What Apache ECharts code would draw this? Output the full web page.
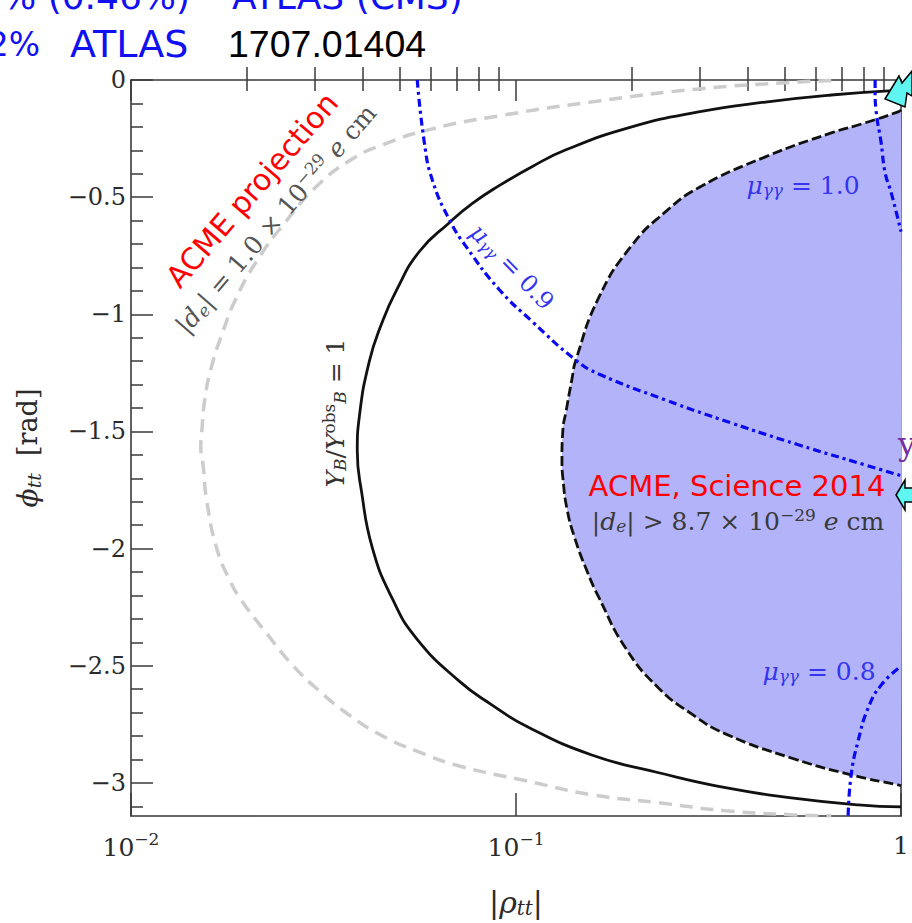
<!DOCTYPE html>
<html>
<head>
<meta charset="utf-8">
<script src="https://cdn.jsdelivr.net/npm/echarts@6/dist/echarts.min.js"></script>
<style>html,body{margin:0;padding:0;background:#fff}#c{width:912px;height:923px}</style>
</head>
<body>
<div id="c"></div>
<script>
// ---- data (x = |rho_tt|, y = phi_tt [rad]) ----
const acmeProjectionCurve = [
  [0.6587,-0.002],[0.5410,-0.0085],[0.2979,-0.0383],[0.1641,-0.0894],[0.0904,-0.153],[0.0606,-0.2085],
  [0.0450,-0.2766],[0.0369,-0.3447],[0.0303,-0.455],[0.0251,-0.609],[0.0212,-0.774],[0.0187,-0.936],
  [0.0173,-1.077],[0.0162,-1.221],[0.01555,-1.362],[0.01527,-1.502],[0.01518,-1.570],[0.0154,-1.647],
  [0.0157,-1.787],[0.0167,-2.000],[0.0181,-2.140],[0.0192,-2.213],[0.0225,-2.362],[0.0263,-2.498],
  [0.0309,-2.609],[0.0369,-2.711],[0.0450,-2.800],[0.0551,-2.864],[0.0712,-2.928],[0.1061,-2.991],
  [0.1573,-3.051],[0.2348,-3.085],[0.3499,-3.119],[0.5188,-3.136],[0.6587,-3.141]
];
const baryonAsymmetryCurve = [
  [1.0,-0.043],[0.6587,-0.064],[0.4443,-0.094],[0.2979,-0.136],[0.1998,-0.200],[0.1348,-0.298],
  [0.1100,-0.370],[0.0904,-0.451],[0.0769,-0.528],[0.0671,-0.609],[0.0561,-0.732],[0.0489,-0.898],
  [0.0447,-1.043],[0.0416,-1.200],[0.0392,-1.434],[0.0387,-1.583],[0.0397,-1.757],[0.0424,-2.000],
  [0.0477,-2.213],[0.0551,-2.383],[0.0712,-2.566],[0.0867,-2.668],[0.1061,-2.757],[0.1573,-2.881],
  [0.2348,-2.957],[0.3499,-3.021],[0.5188,-3.064],[0.7737,-3.094],[1.0,-3.103]
];
const acme2014Curve = [
  [1.0,-0.128],[0.9822,-0.136],[0.8067,-0.183],[0.6587,-0.226],[0.4443,-0.328],[0.2979,-0.460],
  [0.2447,-0.562],[0.1998,-0.706],[0.1641,-0.928],[0.1430,-1.196],[0.1397,-1.277],[0.1348,-1.417],
  [0.1324,-1.489],[0.1316,-1.626],[0.1324,-1.702],[0.1356,-1.830],[0.1422,-1.957],[0.1527,-2.094],
  [0.1636,-2.204],[0.1928,-2.426],[0.2348,-2.596],[0.2858,-2.706],[0.3499,-2.791],[0.5188,-2.894],
  [0.7421,-2.966],[0.9822,-3.009],[1.0,-3.013]
];
const muGG09 = [
  [0.0554,0],[0.0578,-0.268],[0.0606,-0.426],[0.0671,-0.596],[0.0742,-0.711],[0.0904,-0.894],
  [0.1100,-1.030],[0.1430,-1.196],[0.1641,-1.255],[0.2447,-1.366],[0.3627,-1.464],[0.5410,-1.557],
  [0.8067,-1.643],[1.0,-1.689]
];
const muGG10 = [[0.8564,0],[0.8564,-0.055],[0.8609,-0.128],[0.8877,-0.268],[0.9092,-0.396],[0.9427,-0.481],[1.0,-0.647]];
const muGG08 = [[0.7289,-3.14],[0.7421,-2.966],[0.7737,-2.821],[0.8212,-2.681],[0.8877,-2.583],[1.0,-2.502]];

// ---- ticks / tick labels ----
const xMajorTicks = [0.01, 0.1, 1];
const xTickLabels = [['10','−2'],['10','−1'],['1','']];
const xMinorTicks = [0.02,0.03,0.04,0.05,0.06,0.07,0.08,0.09,0.2,0.3,0.4,0.5,0.6,0.7,0.8,0.9];
const yMajorTicks = [0,-0.5,-1,-1.5,-2,-2.5,-3];
const yTickLabels = ['0','−0.5','−1','−1.5','−2','−2.5','−3'];
const yMinorTicks = [-0.1,-0.2,-0.3,-0.4,-0.6,-0.7,-0.8,-0.9,-1.1,-1.2,-1.3,-1.4,-1.6,-1.7,-1.8,-1.9,
  -2.1,-2.2,-2.3,-2.4,-2.6,-2.7,-2.8,-2.9,-3.1];
const yAllTicks = yMajorTicks.concat(yMinorTicks);

const AX = '#3a3a3a';
const SERIF = 'DejaVu Serif';
const SANS = 'DejaVu Sans';

const chart = echarts.init(document.getElementById('c'), null, {renderer: 'svg'});

function xAxisBase(pos, extra) {
  return Object.assign({
    type: 'log', logBase: 10, min: 0.01, max: 1, position: pos,
    axisLine: {show: true, onZero: false, lineStyle: {color: AX, width: 1.6}},
    splitLine: {show: false}, minorTick: {show: false}, minorSplitLine: {show: false},
    axisLabel: {show: false}
  }, extra);
}
function yAxisBase(pos, extra) {
  return Object.assign({
    type: 'value', min: -Math.PI, max: 0, position: pos,
    axisLine: {show: true, onZero: false, lineStyle: {color: AX, width: 1.6}},
    splitLine: {show: false}, axisLabel: {show: false}
  }, extra);
}
function mathRich(size, color) {
  return {
    n: {fontFamily: SERIF, fontSize: size, fill: color, color: color, lineHeight: size + 4},
    i: {fontFamily: SERIF, fontStyle: 'italic', fontSize: size, fill: color, color: color, lineHeight: size + 4},
    sub: {fontFamily: SERIF, fontStyle: 'italic', fontSize: Math.round(size * 0.68), fill: color, color: color, padding: [Math.round(size * 0.4), 0, 0, 0]},
    sup: {fontFamily: SERIF, fontSize: Math.round(size * 0.68), fill: color, color: color, padding: [0, 0, Math.round(size * 0.5), 0]}
  };
}

const option = {
  animation: false,
  backgroundColor: '#fff',
  grid: {left: 131, right: 9, top: 80, bottom: 103, containLabel: false},
  xAxis: [
    xAxisBase('bottom', {
      axisTick: {show: true, inside: true, length: 23, customValues: xMajorTicks, lineStyle: {color: AX, width: 1.5}},
      axisLabel: {
        show: true, margin: 14, color: '#2b2b2b',
        customValues: xMajorTicks,
        formatter: function (v) {
          let idx = 0, best = 1e9;
          xMajorTicks.forEach(function (t, i) { const d = Math.abs(Math.log10(t) - Math.log10(v)); if (d < best) { best = d; idx = i; } });
          const l = xTickLabels[idx];
          return l[1] ? '{b|' + l[0] + '}{s|' + l[1] + '}' : '{b|' + l[0] + '}';
        },
        rich: {
          b: {fontFamily: SERIF, fontSize: 25, color: '#2b2b2b', lineHeight: 30},
          s: {fontFamily: SERIF, fontSize: 17, color: '#2b2b2b', padding: [0, 0, 18, 0]}
        }
      },
      name: '{n||}{i|ρ}{sub|tt}{n||}', nameLocation: 'middle', nameGap: 70,
      nameTextStyle: {
        rich: {
          n: {fontFamily: SERIF, fontSize: 30, color: '#2b2b2b'},
          i: {fontFamily: SERIF, fontStyle: 'italic', fontSize: 30, color: '#2b2b2b'},
          sub: {fontFamily: SERIF, fontStyle: 'italic', fontSize: 20, color: '#2b2b2b', padding: [12, 0, 0, 0]}
        }
      }
    }),
    xAxisBase('bottom', {axisLine: {show: false}, axisTick: {show: true, inside: true, length: 13, customValues: xMinorTicks, lineStyle: {color: AX, width: 1.5}}}),
    xAxisBase('top', {axisTick: {show: true, inside: true, length: 21, customValues: xMajorTicks, lineStyle: {color: AX, width: 1.5}}}),
    xAxisBase('top', {axisLine: {show: false}, axisTick: {show: true, inside: true, length: 11, customValues: xMinorTicks, lineStyle: {color: AX, width: 1.5}}})
  ],
  yAxis: [
    yAxisBase('left', {
      axisTick: {show: true, inside: true, length: 22, customValues: yMajorTicks, lineStyle: {color: AX, width: 1.5}},
      axisLabel: {
        show: true, margin: 5, customValues: yMajorTicks,
        fontFamily: SERIF, fontSize: 24, color: '#2b2b2b',
        formatter: function (v) {
          let idx = 0, best = 1e9;
          yMajorTicks.forEach(function (t, i) { const d = Math.abs(t - v); if (d < best) { best = d; idx = i; } });
          return yTickLabels[idx];
        }
      },
      name: '{i|ϕ}{sub|tt}{n|  [rad]}', nameLocation: 'middle', nameRotate: 90, nameGap: 88,
      nameTextStyle: {
        rich: {
          n: {fontFamily: SERIF, fontSize: 27, color: '#2b2b2b'},
          i: {fontFamily: SERIF, fontStyle: 'italic', fontSize: 28, color: '#2b2b2b'},
          sub: {fontFamily: SERIF, fontStyle: 'italic', fontSize: 19, color: '#2b2b2b', padding: [12, 0, 0, 0]}
        }
      }
    }),
    yAxisBase('left', {axisLine: {show: false}, axisTick: {show: true, inside: true, length: 12, customValues: yMinorTicks, lineStyle: {color: AX, width: 1.5}}}),
    yAxisBase('right', {axisTick: {show: true, inside: true, length: 4, customValues: yAllTicks, lineStyle: {color: AX, width: 1.2}}})
  ],
  series: [
    {
      name: 'ACME 2014 excluded', type: 'custom', coordinateSystem: 'cartesian2d',
      xAxisIndex: 0, yAxisIndex: 0, data: [0], clip: true, silent: true, z: 1,
      renderItem: function (params, api) {
        const pts = acme2014Curve.map(function (p) { return api.coord(p); });
        return {type: 'polygon', shape: {points: pts, smooth: 0.35}, style: {fill: '#b3b3fa', stroke: null}};
      }
    },
    {
      name: 'ACME projection', type: 'line', data: acmeProjectionCurve, smooth: true, showSymbol: false,
      clip: true, z: 3, lineStyle: {color: '#cccccc', width: 3.5, type: [13, 8]}
    },
    {
      name: 'YB/YBobs=1', type: 'line', data: baryonAsymmetryCurve, smooth: true, showSymbol: false,
      clip: true, z: 4, lineStyle: {color: '#111', width: 2.8}
    },
    {
      name: 'ACME 2014', type: 'line', data: acme2014Curve, smooth: true, showSymbol: false,
      clip: true, z: 4, lineStyle: {color: '#111', width: 2.8, type: [10, 4]}
    },
    {
      name: 'mu 0.9', type: 'line', data: muGG09, smooth: true, showSymbol: false,
      clip: true, z: 5, lineStyle: {color: '#0a0af0', width: 3.2, type: [8, 4, 3, 4]}
    },
    {
      name: 'mu 1.0', type: 'line', data: muGG10, smooth: true, showSymbol: false,
      clip: true, z: 5, lineStyle: {color: '#0a0af0', width: 3.2, type: [8, 4, 3, 4]}
    },
    {
      name: 'mu 0.8', type: 'line', data: muGG08, smooth: true, showSymbol: false,
      clip: true, z: 5, lineStyle: {color: '#0a0af0', width: 3.2, type: [8, 4, 3, 4]}
    }
  ],
  graphic: [
    // header lines (partially cut off at the top of the slide crop)
    {type: 'text', x: 2, y: -4, z: 10, style: {text: '% (0.46%)', font: '36px ' + SANS, fill: '#1010f0', verticalAlign: 'middle'}},
    {type: 'text', x: 232, y: -4, z: 10, style: {text: 'ATLAS (CMS)', font: '36px ' + SANS, fill: '#1010f0', verticalAlign: 'middle'}},
    {type: 'text', x: 40, y: 44, z: 10, style: {text: '2%', font: '33px ' + SANS, fill: '#1010f0', align: 'right', verticalAlign: 'middle'}},
    {type: 'text', x: 70, y: 44, z: 10, style: {text: 'ATLAS', font: '38px ' + SANS, fill: '#1010f0', verticalAlign: 'middle'}},
    {type: 'text', x: 228, y: 44, z: 10, style: {text: '1707.01404', font: '37.5px Liberation Sans', fill: '#000', verticalAlign: 'middle'}},
    // annotations
    {type: 'text', x: 252, y: 190, rotation: 0.86, z: 10, style: {text: 'ACME projection', font: '30px ' + SANS, fill: '#ff0000', align: 'center', verticalAlign: 'middle'}},
    {type: 'text', x: 276, y: 219, rotation: 0.86, z: 10, style: {
      text: '{n||}{i|d}{sub|e}{n|| = 1.0 × 10}{sup|−29}{n| }{i|e}{n| cm}', align: 'center', verticalAlign: 'middle',
      rich: mathRich(25, '#555')}},
    {type: 'text', x: 335, y: 413, rotation: Math.PI / 2, z: 10, style: {
      text: '{i|Y}{sub|B}{n|/}{i|Y}{sup|obs}{sub|B}{n| = 1}', align: 'center', verticalAlign: 'middle',
      rich: mathRich(25, '#333')}},
    {type: 'text', x: 512, y: 267, rotation: -0.80, z: 10, style: {
      text: '{i|μ}{sub|γγ}{n| = 0.9}', align: 'center', verticalAlign: 'middle',
      rich: mathRich(24, '#3535ee')}},
    {type: 'text', x: 803, y: 185, z: 10, style: {
      text: '{i|μ}{sub|γγ}{n| = 1.0}', align: 'center', verticalAlign: 'middle',
      rich: mathRich(25, '#3535ee')}},
    {type: 'text', x: 819, y: 671, z: 10, style: {
      text: '{i|μ}{sub|γγ}{n| = 0.8}', align: 'center', verticalAlign: 'middle',
      rich: mathRich(25, '#3535ee')}},
    {type: 'text', x: 737, y: 486, z: 10, style: {text: 'ACME, Science 2014', font: '29px ' + SANS, fill: '#ff0000', align: 'center', verticalAlign: 'middle'}},
    {type: 'text', x: 738, y: 521, z: 10, style: {
      text: '{n||}{i|d}{sub|e}{n|| > 8.7 × 10}{sup|−29}{n| }{i|e}{n| cm}', align: 'center', verticalAlign: 'middle',
      rich: mathRich(25, '#3a3a3a')}},
    // slide decorations at the right edge
    {type: 'text', x: 898, y: 460, z: 10, style: {text: 'y', font: '32px ' + SERIF, fill: '#7030a0', verticalAlign: 'bottom'}},
    {type: 'polygon', z: 11, shape: {points: [[885, 99], [899, 76], [902, 83], [912, 71], [912, 96], [907, 93], [905, 107]]},
      style: {fill: '#5ff5f0', stroke: '#000', lineWidth: 1.5}},
    {type: 'polygon', z: 11, shape: {points: [[896, 495], [905, 480], [905, 488], [914, 488], [914, 502], [905, 502], [905, 510]]},
      style: {fill: '#5ff5f0', stroke: '#000', lineWidth: 1.5}}
  ]
};
chart.setOption(option);
</script>
</body>
</html>
